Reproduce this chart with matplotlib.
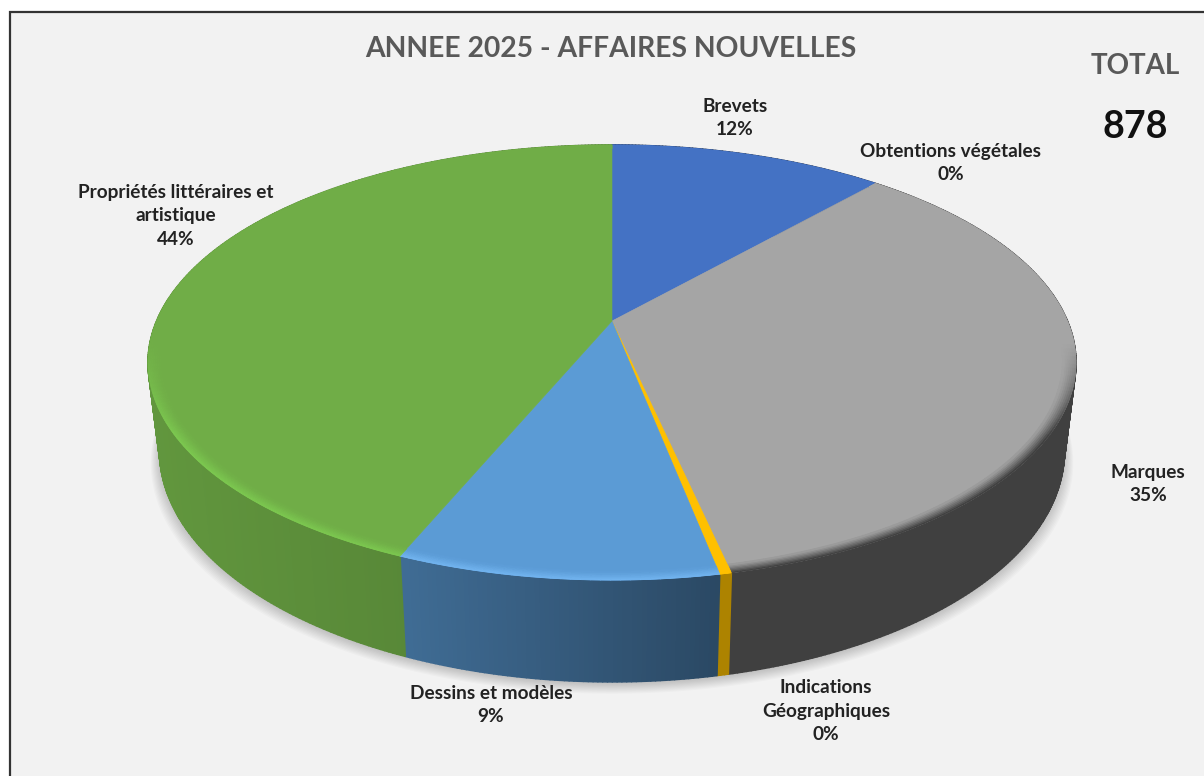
import numpy as np
import matplotlib
matplotlib.use("Agg")
import matplotlib.pyplot as plt
from matplotlib.collections import PolyCollection
from matplotlib.colors import to_rgb

title = "ANNEE 2025 - AFFAIRES NOUVELLES"
categories = ["Brevets", "Obtentions végétales", "Marques", "Indications\nGéographiques",
              "Dessins et modèles", "Propriétés littéraires et\nartistique"]
values = [101, 0, 308, 3, 82, 384]
colors = ["#4472C4", "#ED7D31", "#A5A5A5", "#FFC000", "#5B9BD5", "#70AD47"]
rim_colors = ["#4472C4", "#ED7D31", "#404040", "#FFC000", "#72B4F0", "#7CC850"]
side_shade = [(0.5, 0.5), (0.6, 0.6), (0.39, 0.39), (0.68, 0.68), (0.70, 0.47), (0.87, 0.72)]
label_pos = [(735, 118), (951, 163), (1148, 484), (826, 711), (491, 705), (176, 216)]

# projection of the pie disc, the view is in perspective so the middle is not the ellipse centre
CX = 612
C = -0.191
A = 455.4
TOP_B, TOP_V = 321, 148.3
BOT_B, BOT_V = 407, 144.6
BOT_SCALE = 0.975


def project(t, r=1.0, bottom=False):
    u = r * np.sin(t)
    v = -r * np.cos(t)
    d = 1 + C * v
    if bottom:
        return CX + BOT_SCALE * A * u / d, (BOT_B + BOT_V * v) / d
    return CX + A * u / d, (TOP_B + TOP_V * v) / d


def shade(col, f):
    return tuple(c * f for c in to_rgb(col))


def mix(a, b, w):
    a, b = to_rgb(a), to_rgb(b)
    return tuple(x * (1 - w) + y * w for x, y in zip(a, b))


fig = plt.figure(figsize=(12.04, 7.76), dpi=100, facecolor="white")
ax = fig.add_axes([0, 0, 1, 1])
ax.set_xlim(0, 1204)
ax.set_ylim(776, 0)
ax.axis("off")

# chart frame
ax.add_patch(plt.Rectangle((9.5, 11.5), 1300, 900, facecolor="#F2F2F2", edgecolor="#333333", lw=1.6))

# soft shadow below the pie
ts = np.linspace(0, 2 * np.pi, 361)
bx, by = project(ts, bottom=True)
for i in range(10):
    grow = 1 + 0.0022 * i
    ax.fill(CX + (bx - CX) * grow, by + 2 + 1.1 * i, color="black", alpha=0.018, lw=0)

edges = np.cumsum([0] + values) / sum(values) * 2 * np.pi

# side wall, cut in thin strips for the gradient
polys, cols = [], []
for i, col in enumerate(colors):
    if values[i] == 0:
        continue
    n = max(3, int(np.degrees(edges[i + 1] - edges[i]) * 2))
    t = np.linspace(edges[i], edges[i + 1], n + 1)
    tx, ty = project(t)
    ox, oy = project(t, bottom=True)
    x0, x1 = tx.min(), tx.max()
    for k in range(n):
        polys.append([(tx[k], ty[k]), (tx[k + 1], ty[k + 1]), (ox[k + 1], oy[k + 1]), (ox[k], oy[k])])
        f = np.interp(tx[k], [x0, x1], side_shade[i])
        cols.append(shade(col, f))
ax.add_collection(PolyCollection(polys, facecolors=cols, edgecolors=cols, linewidths=1.2))

# top face
for i, col in enumerate(colors):
    if values[i] == 0:
        continue
    t = np.linspace(edges[i], edges[i + 1], 200)
    tx, ty = project(t)
    ax.fill(np.r_[CX, tx], np.r_[TOP_B, ty], color=col, lw=0.4)

# bevel along the front of the top face
radii = np.linspace(1.0, 0.972, 8)
polys, cols = [], []
for i, col in enumerate(colors):
    if values[i] == 0:
        continue
    n = max(3, int(np.degrees(edges[i + 1] - edges[i])))
    t = np.linspace(edges[i], edges[i + 1], n + 1)
    for j in range(len(radii) - 1):
        ax0, ay0 = project(t, radii[j])
        ax1, ay1 = project(t, radii[j + 1])
        for k in range(n):
            front = np.clip((-np.cos(t[k]) - 0.1) / 0.4, 0, 1)
            w = front * (1 - j / (len(radii) - 1)) ** 1.2
            polys.append([(ax0[k], ay0[k]), (ax0[k + 1], ay0[k + 1]), (ax1[k + 1], ay1[k + 1]), (ax1[k], ay1[k])])
            cols.append(mix(col, rim_colors[i], w))
ax.add_collection(PolyCollection(polys, facecolors=cols, edgecolors=cols, linewidths=0.6))

# labels
total = sum(values)
font = "Lato"
for name, val, pos in zip(categories, values, label_pos):
    ax.text(pos[0], pos[1], f"{name}\n{round(val / total * 100)}%", ha="center", va="center",
            fontsize=13.7, fontweight="bold", family=font, color="#222222", linespacing=1.47)

ax.text(611, 49, title, ha="center", va="center", fontsize=20.3, fontweight="bold",
        family=font, color="#595959")
ax.text(1135, 66, "TOTAL", ha="center", va="center", fontsize=20, fontweight="bold",
        family=font, color="#595959")
ax.text(1135, 127, str(total), ha="center", va="center", fontsize=27, fontweight="bold",
        family=font, color="#111111")

fig.savefig("out.png", dpi=100, facecolor="white")
